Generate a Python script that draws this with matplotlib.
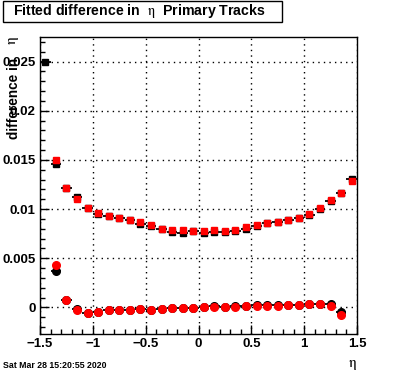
import numpy as np
import matplotlib
matplotlib.use("Agg")
import matplotlib.pyplot as plt
from matplotlib.patches import Rectangle
from matplotlib.ticker import MultipleLocator, FuncFormatter

plt.rcParams['font.family'] = ['Liberation Sans', 'DejaVu Sans']
plt.rcParams['mathtext.fontset'] = 'stix'

# bin centres in eta
eta_upper = [-1.45, -1.35, -1.25, -1.15, -1.05, -0.95, -0.85, -0.75, -0.65, -0.55,
             -0.45, -0.35, -0.25, -0.15, -0.05, 0.05, 0.15, 0.25, 0.35, 0.45,
             0.55, 0.65, 0.75, 0.85, 0.95, 1.05, 1.15, 1.25, 1.35, 1.45]
black_upper = [0.0250, 0.01455, 0.01215, 0.0112, 0.0101, 0.0095, 0.0093, 0.0091, 0.0089, 0.0085,
               0.0083, 0.0080, 0.0077, 0.0076, 0.0078, 0.0076, 0.0077, 0.0077, 0.0078, 0.0080,
               0.0083, 0.0086, 0.0087, 0.0089, 0.0091, 0.0094, 0.0100, 0.0108, 0.0116, 0.0131]

eta_red_upper = eta_upper[1:]
red_upper = [0.01497, 0.01215, 0.01104, 0.01012, 0.00961, 0.00931, 0.00911, 0.0089, 0.0087,
             0.0084, 0.00799, 0.00786, 0.00783, 0.00778, 0.00775, 0.00786, 0.00778, 0.00786, 0.00818,
             0.0084, 0.0086, 0.0087, 0.00887, 0.0091, 0.00948, 0.01016, 0.0109, 0.01162, 0.01287]

eta_lower = eta_upper[1:-1]
black_lower = [0.0037, 0.0008, -0.0002, -0.0006, -0.0005, -0.0003, -0.0003, -0.0003, -0.0002,
               -0.0003, -0.0002, -0.0001, -0.0001, -0.0001, 0.0000, 0.0001, 0.0000, 0.0001, 0.0001,
               0.0002, 0.0002, 0.0002, 0.0002, 0.0002, 0.0004, 0.0004, 0.0003, -0.0005]
red_lower = [0.0043, 0.00077, -0.00024, -0.00061, -0.00048, -0.0003, -0.0003, -0.00024, -0.0002,
             -0.00025, -0.0002, -0.0001, -0.0001, -0.0001, 0.00005, 0.00006, 0.00005, 0.00005, 0.00013,
             0.00016, 0.00016, 0.00016, 0.0002, 0.0002, 0.00037, 0.00037, 0.00016, -0.00075]

W, H = 396, 372
fig = plt.figure(figsize=(W / 100, H / 100), dpi=100)
ax = fig.add_axes([40 / W, 1 - 334 / H, 317 / W, 297 / H])

# black histograms with bin-width error bars
ax.errorbar(eta_upper, black_upper, xerr=0.05, yerr=0.00015, fmt='s', color='black',
            ms=5, lw=1.3, capsize=0, zorder=3)
ax.errorbar(eta_lower, black_lower, xerr=0.05, yerr=0.00012, fmt='o', color='black',
            ms=5.5, lw=1.3, capsize=0, zorder=3)
# red on top
ax.plot(eta_red_upper, red_upper, 's', color='#ff0000', ms=5, zorder=4)
ax.plot(eta_lower, red_lower, 'o', color='#ff0000', ms=5.5, zorder=4)

ax.set_xlim(-1.5, 1.5)
ax.set_ylim(-0.0027, 0.0275)
ax.xaxis.set_major_locator(MultipleLocator(0.5))
ax.xaxis.set_minor_locator(MultipleLocator(0.1))
ax.yaxis.set_major_locator(MultipleLocator(0.005))
ax.yaxis.set_minor_locator(MultipleLocator(0.001))
ax.yaxis.set_major_formatter(FuncFormatter(lambda v, p: '0' if abs(v) < 1e-9 else ('%g' % v)))
ax.xaxis.set_major_formatter(FuncFormatter(lambda v, p: ('%g' % v).replace('-', '\u2212')))

ax.grid(True, which='major', color='black', linestyle=(0, (1, 3)), linewidth=1)
ax.tick_params(which='both', direction='in', top=False, right=False, width=1)
ax.tick_params(which='major', length=6.5, labelsize=9.5, pad=3)
ax.tick_params(which='minor', length=3.3)
for lab in ax.get_xticklabels() + ax.get_yticklabels():
    lab.set_fontweight('bold')
for s in ax.spines.values():
    s.set_linewidth(1)

# title box
fig.patches.append(Rectangle((3 / W, 1 - 22 / H), 279 / W, 21 / H, transform=fig.transFigure,
                             fill=False, edgecolor='black', linewidth=1))
fig.text(13 / W, 1 - 11.5 / H, r'Fitted difference in  $\mathrm{\eta}$  Primary Tracks',
         fontsize=10.2, fontweight='bold', ha='left', va='center')

# y title
fig.text(14 / W, 1 - 36 / H, r'$\mathrm{\eta}$', fontsize=11, rotation=90, ha='center', va='top')
fig.text(14 / W, 1 - 58 / H, 'difference in', fontsize=9.8, fontweight='bold',
         rotation=90, ha='center', va='top')
# x title
fig.text(352 / W, 1 - 365 / H, r'$\mathrm{\eta}$', fontsize=11, ha='center', va='center')

fig.text(3 / W, 1 - 366 / H, 'Sat Mar 28 15:20:55 2020', fontsize=6.3, fontweight='bold',
         ha='left', va='center')

fig.savefig('out.png', dpi=100)
